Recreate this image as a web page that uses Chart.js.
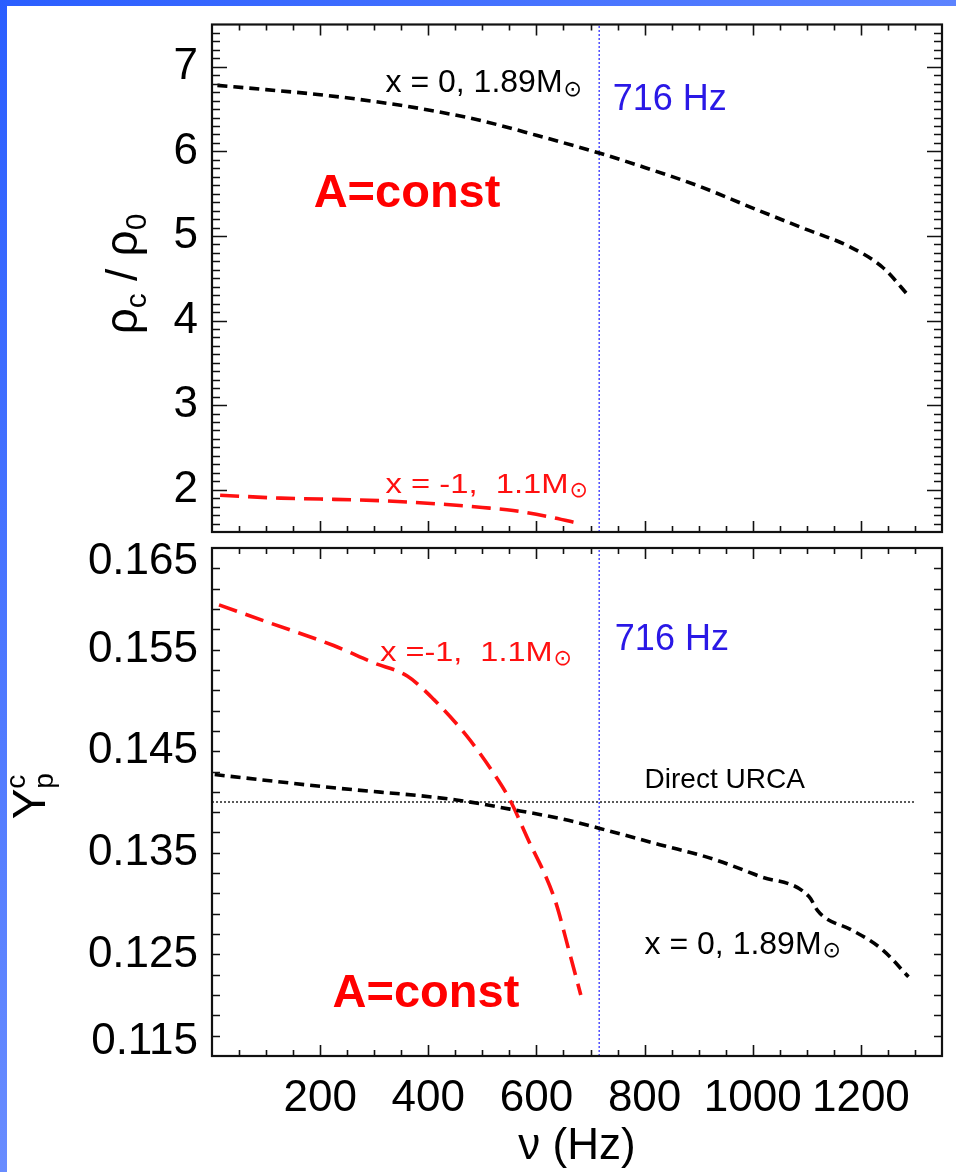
<!DOCTYPE html>
<html>
<head>
<meta charset="utf-8">
<title>Central density and proton fraction vs spin frequency</title>
<script src="https://cdn.jsdelivr.net/npm/chart.js@4.4.1/dist/chart.umd.min.js"></script>
<style>
  html, body { margin: 0; padding: 0; }
  body {
    width: 956px; height: 1172px; overflow: hidden; position: relative;
    background: linear-gradient(135deg, #2a5eff 0%, #5c83ff 45%, #a2b5ff 100%);
  }
  #sheet { position: absolute; left: 7px; top: 6px; right: 0; bottom: 0; background: #fff; }
  #rhoChart { position: absolute; left: 0; top: -20px; }
  #ypChart { position: absolute; left: 0; top: 500px; }
</style>
</head>
<body>
<div id="sheet"></div>
<canvas id="rhoChart" width="956" height="600"></canvas>
<canvas id="ypChart" width="956" height="672"></canvas>
<script>
// ---- axis ticks ----
const nuTicks  = [200, 400, 600, 800, 1000, 1200];
const rhoTicks = [2, 3, 4, 5, 6, 7];
const ypTicks  = [0.115, 0.125, 0.135, 0.145, 0.155, 0.165];

// ---- upper panel: central density rho_c / rho_0 ----
// x = 0, 1.89 Msun
const nuRhoStiff = [10, 100, 200, 300, 400, 500, 600, 716, 800, 900, 1000, 1090, 1180, 1240, 1290];
const rhoStiff   = [6.78, 6.73, 6.67, 6.59, 6.49, 6.36, 6.19, 5.98, 5.81, 5.59, 5.33, 5.10, 4.87, 4.63, 4.28];
// x = -1, 1.1 Msun
const nuRhoSoft = [15, 127, 200, 311, 434, 500, 557, 619, 683];
const rhoSoft   = [1.935, 1.90, 1.89, 1.87, 1.825, 1.79, 1.754, 1.686, 1.595];

// ---- lower panel: central proton fraction Y_p^c ----
// x = 0, 1.89 Msun
const nuYpStiff = [5, 225, 452, 551, 650, 717, 828, 920, 1012, 1104, 1120, 1134, 1183, 1239, 1288];
const ypStiff   = [0.1427, 0.1414, 0.1402, 0.1393, 0.1383, 0.1374, 0.1358, 0.1345, 0.1327, 0.1307, 0.1293, 0.1286, 0.1274, 0.1255, 0.1228];
// x = -1, 1.1 Msun
const nuYpSoft = [13, 103, 225, 299, 361, 410, 471, 520, 551, 582, 634, 660, 682];
const ypSoft   = [0.1594, 0.1577, 0.1554, 0.1537, 0.1524, 0.1501, 0.1465, 0.1429, 0.1402, 0.1366, 0.1304, 0.1254, 0.1210];

// reference lines
const nuObserved = 716;          // fastest known pulsar, Hz
const ypDirectUrca = 0.140;      // direct URCA threshold
const nuUrcaSpan = [0, 1300];

const FONT = '"Liberation Sans", Arial, Helvetica, sans-serif';
const SYMBOL_FONT = '"DejaVu Sans", "Liberation Sans", sans-serif';
const SUN = '\u2299';

const pts = (xs, ys) => xs.map((v, i) => ({ x: v, y: ys[i] }));

// Frame with inward-pointing major/minor ticks on all four sides
const frameTicks = {
  id: 'frameTicks',
  afterDatasetsDraw(chart, args, o) {
    const { ctx, chartArea: a, scales: { x, y } } = chart;
    const isMajor = (v, step) => Math.abs(v / step - Math.round(v / step)) < 1e-6;
    ctx.save();
    ctx.strokeStyle = '#111';
    ctx.lineWidth = 1.6;
    ctx.beginPath();
    const nx = Math.round((x.max - x.min) / o.xMinor);
    for (let i = 1; i < nx; i++) {
      const v = x.min + i * o.xMinor;
      const px = Math.round(x.getPixelForValue(v)) + 0.5;
      const len = isMajor(v, o.xMajor) ? o.xMajorLen : o.xMinorLen;
      ctx.moveTo(px, a.bottom); ctx.lineTo(px, a.bottom - len);
      ctx.moveTo(px, a.top); ctx.lineTo(px, a.top + len);
    }
    const ny = Math.round((y.max - y.min) / o.yMinor);
    for (let i = 1; i < ny; i++) {
      const v = y.min + i * o.yMinor;
      const py = Math.round(y.getPixelForValue(v)) + 0.5;
      const len = isMajor(v, o.yMajor) ? o.yMajorLen : o.yMinorLen;
      ctx.moveTo(a.left, py); ctx.lineTo(a.left + len, py);
      ctx.moveTo(a.right, py); ctx.lineTo(a.right - len, py);
    }
    ctx.stroke();
    ctx.lineWidth = 2.2;
    ctx.strokeRect(a.left, a.top, a.right - a.left, a.bottom - a.top);
    ctx.restore();
  }
};

// Rotated y-axis title built from text runs (sub/superscripts)
const axisTitle = {
  id: 'axisTitle',
  afterDraw(chart, args, o) {
    const { ctx } = chart;
    ctx.save();
    ctx.translate(o.x, o.y);
    ctx.rotate(-Math.PI / 2);
    ctx.fillStyle = '#000';
    ctx.textBaseline = 'alphabetic';
    ctx.textAlign = 'left';
    let total = 0;
    const widths = o.runs.map(r => {
      ctx.font = `${r.size}px ${FONT}`;
      const w = ctx.measureText(r.text).width;
      if (!r.stack) total += w;
      return w;
    });
    let cx = -total / 2, last = 0;
    o.runs.forEach((r, i) => {
      ctx.font = `${r.size}px ${FONT}`;
      const xx = r.stack ? last : cx;
      ctx.fillText(r.text, xx, r.dy || 0);
      if (!r.stack) { last = cx; cx += widths[i]; }
    });
    ctx.restore();
  }
};

// Curve labels and panel notes, anchored in data coordinates
const notes = {
  id: 'notes',
  afterDraw(chart, args, o) {
    const { ctx, scales: { x, y } } = chart;
    o.items.forEach(it => {
      const px = x.getPixelForValue(it.x);
      const py = y.getPixelForValue(it.y);
      ctx.save();
      ctx.translate(px, py);
      ctx.scale(it.stretch || 1, 1);
      ctx.fillStyle = it.color;
      ctx.textAlign = 'left';
      ctx.textBaseline = 'alphabetic';
      ctx.font = `${it.bold ? 'bold ' : ''}${it.size}px ${FONT}`;
      ctx.fillText(it.text, 0, 0);
      if (it.sun) {
        const w = ctx.measureText(it.text).width;
        ctx.scale(1 / (it.stretch || 1), 1);
        ctx.font = `${it.sun}px ${SYMBOL_FONT}`;
        ctx.textBaseline = 'middle';
        ctx.fillText(SUN, w * (it.stretch || 1) + 1, -2);
      }
      ctx.restore();
    });
  }
};

const blackDash = { borderColor: '#000', borderWidth: 3.6, borderDash: [10, 6] };
const redDash = { borderColor: '#ff1010', borderWidth: 3.6, borderDash: [19, 9] };
const curve = { pointRadius: 0, fill: false, cubicInterpolationMode: 'monotone' };
const tickFont = { family: FONT, size: 44, lineHeight: 1 };

const commonOptions = {
  responsive: false,
  animation: false,
  events: [],
  plugins: { legend: { display: false }, tooltip: { enabled: false } }
};

// ---------- upper panel ----------
new Chart(document.getElementById('rhoChart'), {
  type: 'line',
  data: {
    datasets: [
      { data: pts(nuRhoStiff, rhoStiff), ...blackDash, ...curve },
      { data: pts(nuRhoSoft, rhoSoft), ...redDash, ...curve },
      { data: [{ x: nuObserved, y: 1.5 }, { x: nuObserved, y: 7.5 }], borderColor: '#2323ff', borderWidth: 1.2, borderDash: [2, 2], pointRadius: 0 }
    ]
  },
  options: {
    ...commonOptions,
    layout: { padding: { left: 0, top: 44.5, right: 14, bottom: 48 } },
    scales: {
      x: { type: 'linear', min: 0, max: 1350, display: false },
      y: {
        type: 'linear', min: 1.5, max: 7.5,
        afterBuildTicks: s => { s.ticks = rhoTicks.map(v => ({ value: v })); },
        grid: { display: false, drawTicks: false },
        border: { display: false },
        ticks: { font: tickFont, color: '#000', padding: 14, autoSkip: false, callback: v => String(v) },
        afterFit: s => { s.width = 212; }
      }
    },
    plugins: {
      ...commonOptions.plugins,
      frameTicks: { xMinor: 50, xMajor: 200, xMajorLen: 11, xMinorLen: 6, yMinor: 0.1, yMajor: 1, yMajorLen: 15, yMinorLen: 8 },
      axisTitle: {
        x: 137, y: 294,
        runs: [
          { text: 'ρ', size: 46 },
          { text: 'c', size: 30, dy: 9 },
          { text: ' / ', size: 44 },
          { text: 'ρ', size: 46 },
          { text: '0', size: 30, dy: 9 }
        ]
      },
      notes: {
        items: [
          { text: 'x = 0, 1.89M', x: 321, y: 6.70, color: '#000', size: 32, sun: 22 },
          { text: '716 Hz', x: 741, y: 6.49, color: '#2a18e6', size: 36 },
          { text: 'A=const', x: 188, y: 5.34, color: '#ff0000', size: 47, bold: true },
          { text: 'x = -1,  1.1M', x: 321, y: 1.96, color: '#ff1010', size: 28, stretch: 1.17, sun: 22 }
        ]
      }
    }
  },
  plugins: [frameTicks, axisTitle, notes]
});

// ---------- lower panel ----------
const firstYp = ypTicks[0], lastYp = ypTicks[ypTicks.length - 1];
new Chart(document.getElementById('ypChart'), {
  type: 'line',
  data: {
    datasets: [
      { data: pts(nuYpStiff, ypStiff), ...blackDash, ...curve },
      { data: pts(nuYpSoft, ypSoft), ...redDash, ...curve },
      { data: nuUrcaSpan.map(v => ({ x: v, y: ypDirectUrca })), borderColor: '#000', borderWidth: 1.3, borderDash: [2, 2], pointRadius: 0 },
      { data: [{ x: nuObserved, y: 0.115 }, { x: nuObserved, y: 0.165 }], borderColor: '#2323ff', borderWidth: 1.2, borderDash: [2, 2], pointRadius: 0 }
    ]
  },
  options: {
    ...commonOptions,
    layout: { padding: { left: 0, top: 48, right: 14, bottom: 0 } },
    scales: {
      x: {
        type: 'linear', min: 0, max: 1350,
        afterBuildTicks: s => { s.ticks = nuTicks.map(v => ({ value: v })); },
        grid: { display: false, drawTicks: false },
        border: { display: false },
        ticks: { font: tickFont, color: '#000', padding: 21, autoSkip: false, maxRotation: 0, callback: v => String(v) },
        title: { display: true, text: 'ν (Hz)', color: '#000', font: { family: FONT, size: 44, lineHeight: 1 }, padding: { top: 0, bottom: 3 } },
        afterFit: s => { s.height = 116; }
      },
      y: {
        type: 'linear', min: 0.115, max: 0.165,
        afterBuildTicks: s => { s.ticks = ypTicks.map(v => ({ value: v })); },
        grid: { display: false, drawTicks: false },
        border: { display: false },
        ticks: {
          color: '#000', padding: 14, autoSkip: false,
          // end labels sit just inside the frame
          callback: v => v === firstYp ? [v.toFixed(3), ''] : v === lastYp ? ['', v.toFixed(3)] : v.toFixed(3),
          font: c => {
            const v = c.tick && c.tick.value;
            const edge = v === firstYp || v === lastYp;
            return { family: FONT, size: 44, lineHeight: edge ? 28 / 44 : 1 };
          }
        },
        afterFit: s => { s.width = 212; }
      }
    },
    plugins: {
      ...commonOptions.plugins,
      frameTicks: { xMinor: 50, xMajor: 200, xMajorLen: 11, xMinorLen: 6, yMinor: 0.002, yMajor: 0.01, yMajorLen: 15, yMinorLen: 8 },
      axisTitle: {
        x: 45, y: 297,
        runs: [
          { text: 'Y', size: 46 },
          { text: 'c', size: 28, dy: -20 },
          { text: 'p', size: 28, dy: 8, stack: true }
        ]
      },
      notes: {
        items: [
          { text: '716 Hz', x: 745, y: 0.1550, color: '#2a18e6', size: 36 },
          { text: 'x =-1,  1.1M', x: 311, y: 0.15384, color: '#ff1010', size: 28, stretch: 1.16, sun: 22 },
          { text: 'Direct URCA', x: 800, y: 0.14142, color: '#000', size: 28 },
          { text: 'x = 0, 1.89M', x: 800, y: 0.12507, color: '#000', size: 32, sun: 22 },
          { text: 'A=const', x: 223, y: 0.11985, color: '#ff0000', size: 47, bold: true }
        ]
      }
    }
  },
  plugins: [frameTicks, axisTitle, notes]
});
</script>
</body>
</html>
